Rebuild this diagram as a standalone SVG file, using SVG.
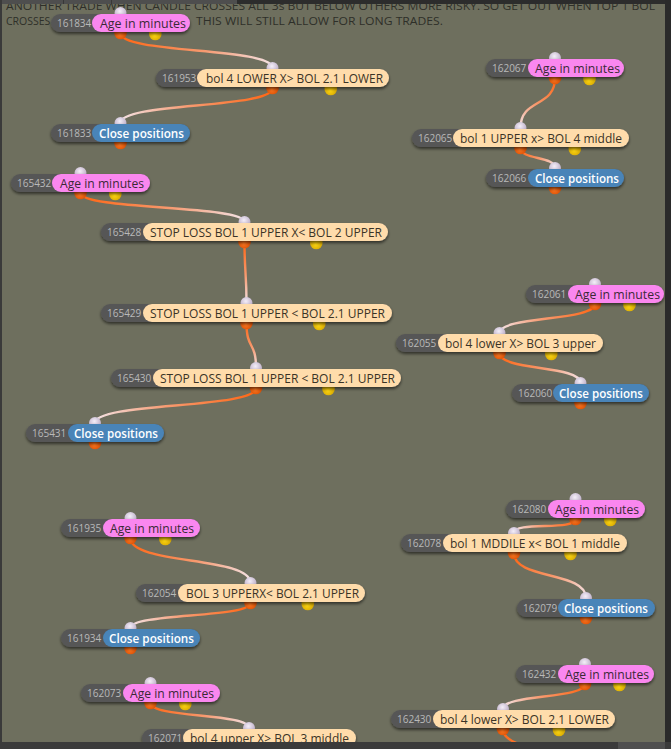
<svg xmlns="http://www.w3.org/2000/svg" width="671" height="749" viewBox="0 0 671 749">
<style>
.bgt{font-family:"Open Sans","Noto Sans",sans-serif;font-size:10.5px;fill:#2e2f29}
.idb{fill:#575757}
.pink{fill:#fa87ef}
.peach{fill:#ffdcab}
.blue{fill:#4884b8}
.id{font-family:"Open Sans","Noto Sans",sans-serif;font-size:10px;fill:#b9b9b9}
.lbl{font-family:"Open Sans","Noto Sans",sans-serif;font-size:12px;fill:#3a2a36}
.lblp{font-family:"Open Sans","Noto Sans",sans-serif;font-size:12px;fill:#3a3326}
.lblb{font-family:"Open Sans","Noto Sans",sans-serif;font-size:12px;font-weight:600;fill:#ffffff}
.pin{fill:url(#gin)}
.po{fill:url(#gor)}
.py{fill:url(#gye)}
.wire{fill:none;stroke-width:2.4;stroke-linecap:round}
</style>
<defs>
<filter id="sh" x="-10%" y="-40%" width="120%" height="200%"><feDropShadow dx="0" dy="2" stdDeviation="1.6" flood-color="#000" flood-opacity="0.55"/></filter>
<radialGradient id="gin" cx="0.45" cy="0.35" r="0.65"><stop offset="0" stop-color="#f4eef8"/><stop offset="1" stop-color="#b7a8c2"/></radialGradient>
<radialGradient id="gor" cx="0.45" cy="0.6" r="0.6"><stop offset="0" stop-color="#ff7a22"/><stop offset="1" stop-color="#d24800"/></radialGradient>
<radialGradient id="gye" cx="0.45" cy="0.6" r="0.6"><stop offset="0" stop-color="#ffd812"/><stop offset="1" stop-color="#cfa000"/></radialGradient>
<linearGradient id="g1" gradientUnits="userSpaceOnUse" x1="120.5" y1="33" x2="272.5" y2="68"><stop offset="0" stop-color="#ff6512"/><stop offset="0.55" stop-color="#f79a70"/><stop offset="1" stop-color="#f3e3e6"/></linearGradient>
<linearGradient id="g2" gradientUnits="userSpaceOnUse" x1="272.5" y1="88" x2="120.5" y2="123"><stop offset="0" stop-color="#ff6512"/><stop offset="0.55" stop-color="#f79a70"/><stop offset="1" stop-color="#f3e3e6"/></linearGradient>
<linearGradient id="g3" gradientUnits="userSpaceOnUse" x1="555" y1="78" x2="520.5" y2="128"><stop offset="0" stop-color="#ff6512"/><stop offset="0.55" stop-color="#f79a70"/><stop offset="1" stop-color="#f3e3e6"/></linearGradient>
<linearGradient id="g4" gradientUnits="userSpaceOnUse" x1="520.5" y1="148" x2="555" y2="168"><stop offset="0" stop-color="#ff6512"/><stop offset="0.55" stop-color="#f79a70"/><stop offset="1" stop-color="#f3e3e6"/></linearGradient>
<linearGradient id="g5" gradientUnits="userSpaceOnUse" x1="80.5" y1="193" x2="244.5" y2="222"><stop offset="0" stop-color="#ff6512"/><stop offset="0.55" stop-color="#f79a70"/><stop offset="1" stop-color="#f3e3e6"/></linearGradient>
<linearGradient id="g6" gradientUnits="userSpaceOnUse" x1="244.5" y1="242" x2="246.5" y2="303"><stop offset="0" stop-color="#ff6512"/><stop offset="0.55" stop-color="#f79a70"/><stop offset="1" stop-color="#f3e3e6"/></linearGradient>
<linearGradient id="g7" gradientUnits="userSpaceOnUse" x1="246.5" y1="323" x2="256" y2="368"><stop offset="0" stop-color="#ff6512"/><stop offset="0.55" stop-color="#f79a70"/><stop offset="1" stop-color="#f3e3e6"/></linearGradient>
<linearGradient id="g8" gradientUnits="userSpaceOnUse" x1="256" y1="388" x2="95" y2="423"><stop offset="0" stop-color="#ff6512"/><stop offset="0.55" stop-color="#f79a70"/><stop offset="1" stop-color="#f3e3e6"/></linearGradient>
<linearGradient id="g9" gradientUnits="userSpaceOnUse" x1="595" y1="304" x2="499.5" y2="333"><stop offset="0" stop-color="#ff6512"/><stop offset="0.55" stop-color="#f79a70"/><stop offset="1" stop-color="#f3e3e6"/></linearGradient>
<linearGradient id="g10" gradientUnits="userSpaceOnUse" x1="499.5" y1="353" x2="580.5" y2="383"><stop offset="0" stop-color="#ff6512"/><stop offset="0.55" stop-color="#f79a70"/><stop offset="1" stop-color="#f3e3e6"/></linearGradient>
<linearGradient id="g11" gradientUnits="userSpaceOnUse" x1="130.5" y1="538" x2="250.5" y2="583"><stop offset="0" stop-color="#ff6512"/><stop offset="0.55" stop-color="#f79a70"/><stop offset="1" stop-color="#f3e3e6"/></linearGradient>
<linearGradient id="g12" gradientUnits="userSpaceOnUse" x1="250.5" y1="603" x2="130.5" y2="628"><stop offset="0" stop-color="#ff6512"/><stop offset="0.55" stop-color="#f79a70"/><stop offset="1" stop-color="#f3e3e6"/></linearGradient>
<linearGradient id="g13" gradientUnits="userSpaceOnUse" x1="575.5" y1="519" x2="514" y2="533"><stop offset="0" stop-color="#ff6512"/><stop offset="0.55" stop-color="#f79a70"/><stop offset="1" stop-color="#f3e3e6"/></linearGradient>
<linearGradient id="g14" gradientUnits="userSpaceOnUse" x1="514" y1="553" x2="586" y2="598"><stop offset="0" stop-color="#ff6512"/><stop offset="0.55" stop-color="#f79a70"/><stop offset="1" stop-color="#f3e3e6"/></linearGradient>
<linearGradient id="g15" gradientUnits="userSpaceOnUse" x1="150.5" y1="703" x2="249" y2="728"><stop offset="0" stop-color="#ff6512"/><stop offset="0.55" stop-color="#f79a70"/><stop offset="1" stop-color="#f3e3e6"/></linearGradient>
<linearGradient id="g16" gradientUnits="userSpaceOnUse" x1="585" y1="684" x2="503" y2="709"><stop offset="0" stop-color="#ff6512"/><stop offset="0.55" stop-color="#f79a70"/><stop offset="1" stop-color="#f3e3e6"/></linearGradient>
<linearGradient id="g17" gradientUnits="userSpaceOnUse" x1="503" y1="729" x2="600" y2="775"><stop offset="0" stop-color="#ff6512"/><stop offset="0.55" stop-color="#f79a70"/><stop offset="1" stop-color="#f3e3e6"/></linearGradient>
</defs>

<rect x="0" y="0" width="671" height="749" fill="#6e6f5e"/>

<g id="note">
<text class="bgt" x="6" y="10" textLength="649" lengthAdjust="spacingAndGlyphs">ANOTHER TRADE WHEN CANDLE CROSSES ALL 3s BUT BELOW OTHERS MORE RISKY.  SO GET OUT WHEN TOP 1 BOL</text>
<text class="bgt" x="6" y="25">CROSSES</text>
<text class="bgt" x="196" y="25" textLength="247" lengthAdjust="spacingAndGlyphs">THIS WILL STILL ALLOW FOR LONG TRADES.</text>
</g>

<g id="connectors">
<path class="wire" stroke="url(#g1)" d="M120.5,33 C120.5,54 272.5,47 272.5,68"/>
<path class="wire" stroke="url(#g2)" d="M272.5,88 C272.5,109 120.5,102 120.5,123"/>
<path class="wire" stroke="url(#g3)" d="M555,78 C555,108 520.5,98 520.5,128"/>
<path class="wire" stroke="url(#g4)" d="M520.5,148 C520.5,160 555,156 555,168"/>
<path class="wire" stroke="url(#g5)" d="M80.5,193 C80.5,210 244.5,205 244.5,222"/>
<path class="wire" stroke="url(#g6)" d="M244.5,242 C244.5,272 246.5,273 246.5,303"/>
<path class="wire" stroke="url(#g7)" d="M246.5,323 C246.5,350 256,341 256,368"/>
<path class="wire" stroke="url(#g8)" d="M256,388 C256,409 95,402 95,423"/>
<path class="wire" stroke="url(#g9)" d="M595,304 C595,321 499.5,316 499.5,333"/>
<path class="wire" stroke="url(#g10)" d="M499.5,353 C499.5,371 580.5,365 580.5,383"/>
<path class="wire" stroke="url(#g11)" d="M130.5,538 C130.5,565 250.5,556 250.5,583"/>
<path class="wire" stroke="url(#g12)" d="M250.5,603 C250.5,618 130.5,613 130.5,628"/>
<path class="wire" stroke="url(#g13)" d="M575.5,519 C575.5,531 514,521 514,533"/>
<path class="wire" stroke="url(#g14)" d="M514,553 C514,580 586,571 586,598"/>
<path class="wire" stroke="url(#g15)" d="M150.5,703 C150.5,718 249,713 249,728"/>
<path class="wire" stroke="url(#g16)" d="M585,684 C585,699 503,694 503,709"/>
<path class="wire" stroke="url(#g17)" d="M503,729 C503,756 600,748 600,775"/>
</g>

<g id="n161834">
<circle class="pin" cx="120.5" cy="13" r="6"/><circle class="po" cx="120.5" cy="33" r="6.3"/><circle class="py" cx="155.3" cy="34" r="6.3"/>
<g filter="url(#sh)"><rect class="idb" x="51" y="14" width="139" height="18" rx="9"/><rect class="pink" x="92" y="14" width="98" height="18" rx="9"/></g>
<text class="id" x="57" y="26.5">161834</text><text class="lbl" x="100" y="27.5" textLength="86" lengthAdjust="spacingAndGlyphs">Age in minutes</text>
</g>

<g id="n161953">
<circle class="pin" cx="272.5" cy="68" r="6"/><circle class="po" cx="272.5" cy="88" r="6.3"/><circle class="py" cx="330.8" cy="89" r="6.3"/>
<g filter="url(#sh)"><rect class="idb" x="156" y="69" width="233" height="18" rx="9"/><rect class="peach" x="197" y="69" width="192" height="18" rx="9"/></g>
<text class="id" x="162" y="81.5">161953</text><text class="lblp" x="206" y="82.5" textLength="177" lengthAdjust="spacingAndGlyphs">bol 4 LOWER X&gt; BOL 2.1 LOWER</text>
</g>

<g id="n161833">
<circle class="pin" cx="120.5" cy="123" r="6"/><circle class="po" cx="120.5" cy="143" r="6.3"/>
<g filter="url(#sh)"><rect class="idb" x="51" y="124" width="139" height="18" rx="9"/><rect class="blue" x="92" y="124" width="98" height="18" rx="9"/></g>
<text class="id" x="57" y="136.5">161833</text><text class="lblb" x="99" y="137.5" textLength="85" lengthAdjust="spacingAndGlyphs">Close positions</text>
</g>

<g id="n162067">
<circle class="pin" cx="555" cy="58" r="6"/><circle class="po" cx="555" cy="78" r="6.3"/><circle class="py" cx="589.5" cy="79" r="6.3"/>
<g filter="url(#sh)"><rect class="idb" x="486" y="59" width="138" height="18" rx="9"/><rect class="pink" x="528" y="59" width="96" height="18" rx="9"/></g>
<text class="id" x="492" y="71.5">162067</text><text class="lbl" x="535" y="72.5" textLength="85" lengthAdjust="spacingAndGlyphs">Age in minutes</text>
</g>

<g id="n162065">
<circle class="pin" cx="520.5" cy="128" r="6"/><circle class="po" cx="520.5" cy="148" r="6.3"/><circle class="py" cx="574.8" cy="149" r="6.3"/>
<g filter="url(#sh)"><rect class="idb" x="412" y="129" width="217" height="18" rx="9"/><rect class="peach" x="453" y="129" width="176" height="18" rx="9"/></g>
<text class="id" x="418" y="141.5">162065</text><text class="lblp" x="460" y="142.5" textLength="162" lengthAdjust="spacingAndGlyphs">bol 1 UPPER x&gt; BOL 4 middle</text>
</g>

<g id="n162066">
<circle class="pin" cx="555" cy="168" r="6"/><circle class="po" cx="555" cy="188" r="6.3"/>
<g filter="url(#sh)"><rect class="idb" x="486" y="169" width="138" height="18" rx="9"/><rect class="blue" x="528" y="169" width="96" height="18" rx="9"/></g>
<text class="id" x="492" y="181.5">162066</text><text class="lblb" x="535" y="182.5" textLength="84" lengthAdjust="spacingAndGlyphs">Close positions</text>
</g>

<g id="n165432">
<circle class="pin" cx="80.5" cy="173" r="6"/><circle class="po" cx="80.5" cy="193" r="6.3"/><circle class="py" cx="115.3" cy="194" r="6.3"/>
<g filter="url(#sh)"><rect class="idb" x="11" y="174" width="139" height="18" rx="9"/><rect class="pink" x="52" y="174" width="98" height="18" rx="9"/></g>
<text class="id" x="17" y="186.5">165432</text><text class="lbl" x="60" y="187.5" textLength="84" lengthAdjust="spacingAndGlyphs">Age in minutes</text>
</g>

<g id="n165428">
<circle class="pin" cx="244.5" cy="222" r="6"/><circle class="po" cx="244.5" cy="242" r="6.3"/><circle class="py" cx="316.3" cy="243" r="6.3"/>
<g filter="url(#sh)"><rect class="idb" x="101" y="223" width="287" height="18" rx="9"/><rect class="peach" x="143" y="223" width="245" height="18" rx="9"/></g>
<text class="id" x="107" y="235.5">165428</text><text class="lblp" x="150" y="236.5" textLength="232" lengthAdjust="spacingAndGlyphs">STOP LOSS BOL 1 UPPER X&lt; BOL 2 UPPER</text>
</g>

<g id="n165429">
<circle class="pin" cx="246.5" cy="303" r="6"/><circle class="po" cx="246.5" cy="323" r="6.3"/><circle class="py" cx="319.3" cy="324" r="6.3"/>
<g filter="url(#sh)"><rect class="idb" x="101" y="304" width="291" height="18" rx="9"/><rect class="peach" x="143" y="304" width="249" height="18" rx="9"/></g>
<text class="id" x="107" y="316.5">165429</text><text class="lblp" x="150" y="317.5" textLength="235" lengthAdjust="spacingAndGlyphs">STOP LOSS BOL 1 UPPER &lt; BOL 2.1 UPPER</text>
</g>

<g id="n165430">
<circle class="pin" cx="256" cy="368" r="6"/><circle class="po" cx="256" cy="388" r="6.3"/><circle class="py" cx="328.5" cy="389" r="6.3"/>
<g filter="url(#sh)"><rect class="idb" x="111" y="369" width="290" height="18" rx="9"/><rect class="peach" x="153" y="369" width="248" height="18" rx="9"/></g>
<text class="id" x="117" y="381.5">165430</text><text class="lblp" x="160" y="382.5" textLength="235" lengthAdjust="spacingAndGlyphs">STOP LOSS BOL 1 UPPER &lt; BOL 2.1 UPPER</text>
</g>

<g id="n165431">
<circle class="pin" cx="95" cy="423" r="6"/><circle class="po" cx="95" cy="443" r="6.3"/>
<g filter="url(#sh)"><rect class="idb" x="26" y="424" width="138" height="18" rx="9"/><rect class="blue" x="68" y="424" width="96" height="18" rx="9"/></g>
<text class="id" x="32" y="436.5">165431</text><text class="lblb" x="74" y="437.5" textLength="84" lengthAdjust="spacingAndGlyphs">Close positions</text>
</g>

<g id="n162061">
<circle class="pin" cx="595" cy="284" r="6"/><circle class="po" cx="595" cy="304" r="6.3"/><circle class="py" cx="629.5" cy="305" r="6.3"/>
<g filter="url(#sh)"><rect class="idb" x="526" y="285" width="138" height="18" rx="9"/><rect class="pink" x="568" y="285" width="96" height="18" rx="9"/></g>
<text class="id" x="532" y="297.5">162061</text><text class="lbl" x="575" y="298.5" textLength="85" lengthAdjust="spacingAndGlyphs">Age in minutes</text>
</g>

<g id="n162055">
<circle class="pin" cx="499.5" cy="333" r="6"/><circle class="po" cx="499.5" cy="353" r="6.3"/><circle class="py" cx="551.3" cy="354" r="6.3"/>
<g filter="url(#sh)"><rect class="idb" x="396" y="334" width="207" height="18" rx="9"/><rect class="peach" x="438" y="334" width="165" height="18" rx="9"/></g>
<text class="id" x="402" y="346.5">162055</text><text class="lblp" x="445" y="347.5" textLength="151" lengthAdjust="spacingAndGlyphs">bol 4 lower X&gt; BOL 3 upper</text>
</g>

<g id="n162060">
<circle class="pin" cx="580.5" cy="383" r="6"/><circle class="po" cx="580.5" cy="403" r="6.3"/>
<g filter="url(#sh)"><rect class="idb" x="512" y="384" width="137" height="18" rx="9"/><rect class="blue" x="553" y="384" width="96" height="18" rx="9"/></g>
<text class="id" x="518" y="396.5">162060</text><text class="lblb" x="559" y="397.5" textLength="84" lengthAdjust="spacingAndGlyphs">Close positions</text>
</g>

<g id="n161935">
<circle class="pin" cx="130.5" cy="518" r="6"/><circle class="po" cx="130.5" cy="538" r="6.3"/><circle class="py" cx="165.3" cy="539" r="6.3"/>
<g filter="url(#sh)"><rect class="idb" x="61" y="519" width="139" height="18" rx="9"/><rect class="pink" x="103" y="519" width="97" height="18" rx="9"/></g>
<text class="id" x="67" y="531.5">161935</text><text class="lbl" x="110" y="532.5" textLength="84" lengthAdjust="spacingAndGlyphs">Age in minutes</text>
</g>

<g id="n162054">
<circle class="pin" cx="250.5" cy="583" r="6"/><circle class="po" cx="250.5" cy="603" r="6.3"/><circle class="py" cx="307.8" cy="604" r="6.3"/>
<g filter="url(#sh)"><rect class="idb" x="136" y="584" width="229" height="18" rx="9"/><rect class="peach" x="178" y="584" width="187" height="18" rx="9"/></g>
<text class="id" x="142" y="596.5">162054</text><text class="lblp" x="186" y="597.5" textLength="173" lengthAdjust="spacingAndGlyphs">BOL 3 UPPERX&lt; BOL 2.1 UPPER</text>
</g>

<g id="n161934">
<circle class="pin" cx="130.5" cy="628" r="6"/><circle class="po" cx="130.5" cy="648" r="6.3"/>
<g filter="url(#sh)"><rect class="idb" x="61" y="629" width="139" height="18" rx="9"/><rect class="blue" x="103" y="629" width="97" height="18" rx="9"/></g>
<text class="id" x="67" y="641.5">161934</text><text class="lblb" x="109" y="642.5" textLength="85" lengthAdjust="spacingAndGlyphs">Close positions</text>
</g>

<g id="n162080">
<circle class="pin" cx="575.5" cy="499" r="6"/><circle class="po" cx="575.5" cy="519" r="6.3"/><circle class="py" cx="610.3" cy="520" r="6.3"/>
<g filter="url(#sh)"><rect class="idb" x="506" y="500" width="139" height="18" rx="9"/><rect class="pink" x="548" y="500" width="97" height="18" rx="9"/></g>
<text class="id" x="512" y="512.5">162080</text><text class="lbl" x="555" y="513.5" textLength="84" lengthAdjust="spacingAndGlyphs">Age in minutes</text>
</g>

<g id="n162078">
<circle class="pin" cx="514" cy="533" r="6"/><circle class="po" cx="514" cy="553" r="6.3"/><circle class="py" cx="570.5" cy="554" r="6.3"/>
<g filter="url(#sh)"><rect class="idb" x="401" y="534" width="226" height="18" rx="9"/><rect class="peach" x="443" y="534" width="184" height="18" rx="9"/></g>
<text class="id" x="407" y="546.5">162078</text><text class="lblp" x="450" y="547.5" textLength="170" lengthAdjust="spacingAndGlyphs">bol 1 MDDILE x&lt; BOL 1 middle</text>
</g>

<g id="n162079">
<circle class="pin" cx="586" cy="598" r="6"/><circle class="po" cx="586" cy="618" r="6.3"/>
<g filter="url(#sh)"><rect class="idb" x="517" y="599" width="138" height="18" rx="9"/><rect class="blue" x="558" y="599" width="97" height="18" rx="9"/></g>
<text class="id" x="523" y="611.5">162079</text><text class="lblb" x="564" y="612.5" textLength="84" lengthAdjust="spacingAndGlyphs">Close positions</text>
</g>

<g id="n162073">
<circle class="pin" cx="150.5" cy="683" r="6"/><circle class="po" cx="150.5" cy="703" r="6.3"/><circle class="py" cx="185.3" cy="704" r="6.3"/>
<g filter="url(#sh)"><rect class="idb" x="81" y="684" width="139" height="18" rx="9"/><rect class="pink" x="123" y="684" width="97" height="18" rx="9"/></g>
<text class="id" x="87" y="696.5">162073</text><text class="lbl" x="130" y="697.5" textLength="84" lengthAdjust="spacingAndGlyphs">Age in minutes</text>
</g>

<g id="n162071">
<circle class="pin" cx="249" cy="728" r="6"/><circle class="po" cx="249" cy="748" r="6.3"/><circle class="py" cx="302.5" cy="749" r="6.3"/>
<g filter="url(#sh)"><rect class="idb" x="142" y="729" width="214" height="18" rx="9"/><rect class="peach" x="183" y="729" width="173" height="18" rx="9"/></g>
<text class="id" x="148" y="741.5">162071</text><text class="lblp" x="190" y="742.5" textLength="159" lengthAdjust="spacingAndGlyphs">bol 4 upper X&gt; BOL 3 middle</text>
</g>

<g id="n162432">
<circle class="pin" cx="585" cy="664" r="6"/><circle class="po" cx="585" cy="684" r="6.3"/><circle class="py" cx="619.5" cy="685" r="6.3"/>
<g filter="url(#sh)"><rect class="idb" x="516" y="665" width="138" height="18" rx="9"/><rect class="pink" x="558" y="665" width="96" height="18" rx="9"/></g>
<text class="id" x="522" y="677.5">162432</text><text class="lbl" x="565" y="678.5" textLength="84" lengthAdjust="spacingAndGlyphs">Age in minutes</text>
</g>

<g id="n162430">
<circle class="pin" cx="503" cy="709" r="6"/><circle class="po" cx="503" cy="729" r="6.3"/><circle class="py" cx="559" cy="730" r="6.3"/>
<g filter="url(#sh)"><rect class="idb" x="391" y="710" width="224" height="18" rx="9"/><rect class="peach" x="433" y="710" width="182" height="18" rx="9"/></g>
<text class="id" x="397" y="722.5">162430</text><text class="lblp" x="440" y="723.5" textLength="169" lengthAdjust="spacingAndGlyphs">bol 4 lower X&gt; BOL 2.1 LOWER</text>
</g>

<g id="frame">
<rect x="0" y="0" width="237" height="4" fill="#4e4e4e"/>
<rect x="63" y="0" width="1" height="4" fill="#383838"/>
<rect x="111" y="0" width="1" height="4" fill="#383838"/>
<rect x="237" y="0" width="434" height="4" fill="#2c2c2c"/>
<rect x="0" y="0" width="2" height="749" fill="#3a3a3a"/>
<rect x="665" y="0" width="6" height="749" fill="#2a2a2a"/>
<rect x="0" y="742" width="671" height="7" fill="#3b3b3b"/>
<rect x="618" y="742" width="47" height="7" fill="#4f4f4f"/>
</g>
</svg>
